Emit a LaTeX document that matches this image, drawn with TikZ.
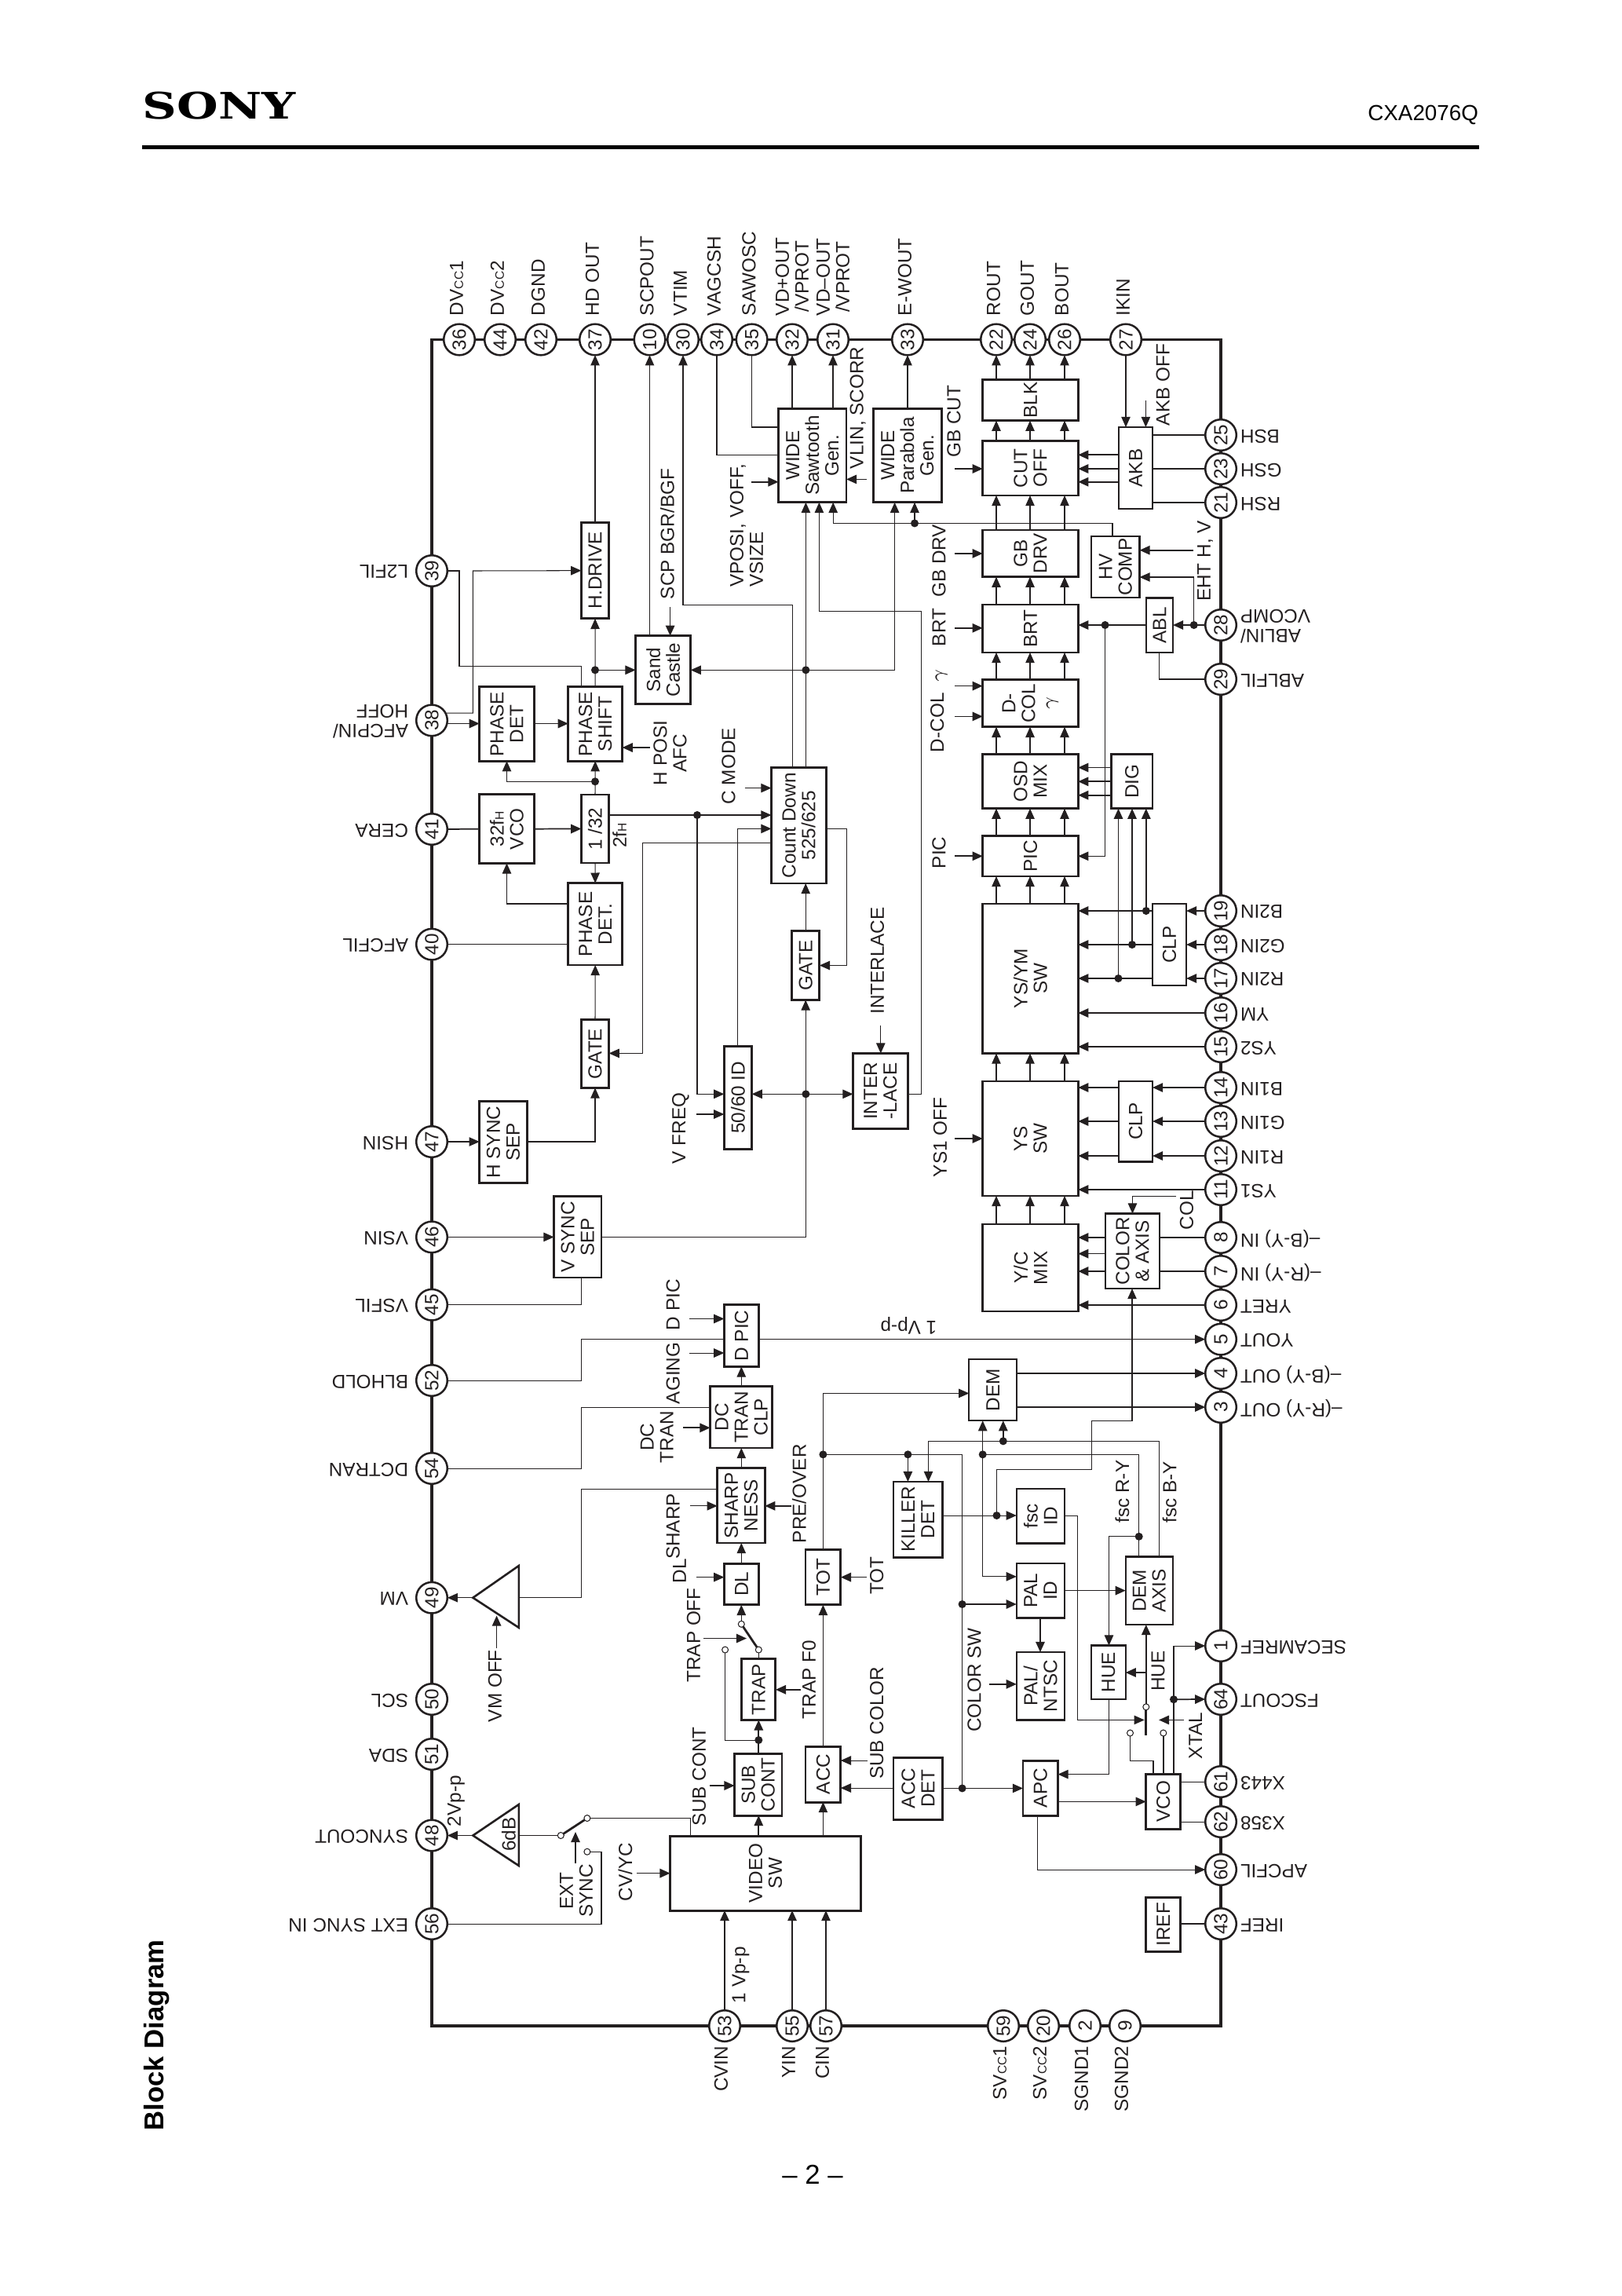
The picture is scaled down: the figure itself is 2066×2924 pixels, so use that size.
\documentclass[tikz,border=0pt]{standalone}
\usepackage{fontspec}
\usepackage{graphicx}
\setmainfont{Liberation Sans}
\newfontfamily\sonyfont{DejaVu Serif}
\usetikzlibrary{arrows.meta}
\definecolor{ink}{HTML}{231F20}
\newcommand\smc[1]{{\fontsize{4.5}{5}\selectfont #1}}
\tikzset{
  txt/.style={inner sep=0pt,outer sep=0pt,align=center,text=ink,font=\fontsize{7}{7.2}\selectfont},
  vt/.style={txt,rotate=90},
  tl/.style={txt,rotate=90,anchor=west},
  bl/.style={txt,rotate=90,anchor=east},
  rl/.style={txt,rotate=180,anchor=east,align=right},
  ll/.style={txt,rotate=180,anchor=west,align=left},
  thk/.style={draw=ink,line width=.85pt,inner sep=0pt,outer sep=0pt},
  mid/.style={draw=ink,line width=.65pt,inner sep=0pt,outer sep=0pt},
  pinc/.style={circle,draw=ink,fill=white,line width=.72pt,minimum size=11.4pt,inner sep=0pt,outer sep=0pt,text=ink,font=\fontsize{7}{7.2}\selectfont},
  dot/.style={circle,fill=ink,minimum size=2.9pt,inner sep=0pt,outer sep=0pt},
  oc/.style={circle,draw=ink,fill=white,line width=.3pt,minimum size=2.3pt,inner sep=0pt,outer sep=0pt},
  ln/.style={draw=ink,line width=.3pt},
  lm/.style={draw=ink,line width=.5pt},
  ar/.style={ln,-{Triangle[length=3.8pt,width=3.3pt]}},
  am/.style={lm,-{Triangle[length=3.8pt,width=3.3pt]}},
  blade/.style={draw=ink,line width=.8pt},
}
\newcommand\blok[7][thk]{%
  \pgfmathsetmacro\bw{(#5-#3)*0.288}\pgfmathsetmacro\bh{(#6-#4)*0.288}%
  \pgfmathsetmacro\bx{(#3+#5)/2}\pgfmathsetmacro\by{(#4+#6)/2}%
  \node[#1,minimum width=\bw pt,minimum height=\bh pt] (#2) at (\bx,\by) {};
  \node[vt] (#2t) at (#2.center) {#7};
}
\newcommand\inn[5][ar]{\coordinate (#2) at (#3,#4); \draw[#1] (#2) -- (#5);}
\begin{document}
\begin{tikzpicture}[x=.288pt,y=-.288pt]
\useasboundingbox (0,0) rectangle (2066,2924);
\fill[white] (0,0) rectangle (2066,2924);
% header
\node[anchor=west,inner sep=0pt] (sony) at (181,135) {\scalebox{1.3}[1]{\sonyfont\bfseries\fontsize{13.4}{14}\selectfont SONY}};
\node[anchor=east,inner sep=0pt,font=\fontsize{8}{9}\selectfont] (part) at (1883.6,146) {CXA2076Q};
\fill[black] (181,185) rectangle (1883.5,190);
\node[rotate=90,anchor=west,inner sep=0pt,font=\bfseries\fontsize{10}{11}\selectfont] (title) at (200,2714) {Block Diagram};
\node[inner sep=0pt,font=\fontsize{10}{11}\selectfont] (page) at (1035,2769) {– 2 –};
% frame
\draw[ink,line width=.95pt] (550,432.5) rectangle (1555,2580);
% blocks
\blok{hdrive}{740.4}{665.5}{775.6}{787.8}{H.DRIVE}
\blok{sand}{809.6}{809.7}{879.7}{896.4}{Sand\\Castle}
\blok{saw}{991.6}{520.4}{1078}{639.8}{WIDE\\Sawtooth\\Gen.}
\blok{par}{1112.4}{520.4}{1199.5}{639.8}{WIDE\\Parabola\\Gen.}
\blok{pd}{610.7}{874.8}{680.3}{969.2}{PHASE\\DET}
\blok{ps}{723.8}{874.8}{792.6}{969.2}{PHASE\\SHIFT}
\blok{vco}{610.7}{1011.9}{680.3}{1099.4}{32f\smc{H}\\VCO}
\blok{div}{740.4}{1012}{775.6}{1099}{1 /32}
\blok{pdd}{723.8}{1124.7}{792.6}{1229}{PHASE\\DET.}
\blok{gatea}{740.4}{1298.7}{775.6}{1385.4}{GATE}
\blok{hsep}{610.7}{1402.8}{671.2}{1506.4}{H SYNC\\SEP}
\blok{cd}{982.5}{977.5}{1052.5}{1125}{Count Down\\525/625}
\blok{gateb}{1008.6}{1185.6}{1043.8}{1273.5}{GATE}
\blok{fid}{922.4}{1332.3}{957.6}{1463.3}{50/60 ID}
\blok{inter}{1086.5}{1341.5}{1156.4}{1437.2}{INTER\\-LACE}
\blok{blk}{1251.7}{483.5}{1373.2}{535.7}{BLK}
\blok{cut}{1251.7}{561.9}{1373.2}{631}{CUT\\OFF}
\blok{gbdrv}{1251.7}{675}{1373.2}{734.7}{GB\\DRV}
\blok{brt}{1251.7}{770}{1373.2}{831}{BRT}
\blok{dcol}{1251.7}{865.7}{1373.2}{925.8}{D-\\COL\\$\gamma$}
\blok{osd}{1251.7}{960.5}{1373.2}{1029.7}{OSD\\MIX}
\blok{pic}{1251.7}{1064.6}{1373.2}{1116}{PIC}
\blok{ysym}{1251.7}{1151}{1373.2}{1341.5}{YS/YM\\SW}
\blok{ys}{1251.7}{1377}{1373.2}{1523}{YS\\SW}
\blok{yc}{1251.7}{1559}{1373.2}{1670}{Y/C\\MIX}
\blok{akb}{1425}{544}{1468}{648}{AKB}
\blok[mid]{hv}{1390}{683}{1451.5}{761}{HV\\COMP}
\blok[mid]{abl}{1459.8}{761.6}{1494}{831}{ABL}
\blok{dig}{1415.4}{960.5}{1468}{1029.7}{DIG}
\blok{clpb}{1468}{1151}{1511}{1255}{CLP}
\blok{clpa}{1425}{1377}{1468}{1479.5}{CLP}
\blok{colax}{1408}{1545.6}{1477}{1641}{COLOR\\\& AXIS}
\blok{vsep}{705.6}{1523.6}{766}{1627}{V SYNC\\SEP}
\blok{dpic}{922.4}{1661.7}{966.7}{1740.4}{D PIC}
\blok{dct}{904.6}{1765.7}{983.7}{1844}{DC\\TRAN\\CLP}
\blok{sharp}{913.7}{1869.7}{974.2}{1965}{SHARP\\NESS}
\blok{dl}{922.4}{1991}{966.7}{2043.8}{DL}
\blok{tot}{1026}{1973.4}{1070.8}{2043.8}{TOT}
\blok{kil}{1138}{1887}{1200.7}{1983}{KILLER\\DET}
\blok{trap}{944.8}{2112.8}{987.9}{2190.4}{TRAP}
\blok{sub}{935.6}{2233.5}{996}{2312}{SUB\\CONT}
\blok{acc}{1026}{2224}{1070.8}{2295}{ACC}
\blok{accd}{1138}{2238}{1200.7}{2317}{ACC\\DET}
\blok{video}{853.6}{2338}{1096.5}{2433}{VIDEO\\SW}
\blok[mid]{dem}{1234.3}{1731.3}{1295.2}{1809.2}{DEM}
\blok[mid]{fsc}{1294.8}{1895.8}{1355.7}{1965.5}{fsc\\ID}
\blok[mid]{pal}{1294.8}{1991}{1355.7}{2060.4}{PAL\\ID}
\blok[mid]{ntsc}{1294.8}{2104}{1355.7}{2190.4}{PAL/\\NTSC}
\blok[mid]{axis}{1433.7}{1982.5}{1494}{2069}{DEM\\AXIS}
\blok[mid]{hue}{1390}{2095.6}{1433.7}{2164}{HUE}
\blok{apc}{1303}{2242}{1347.5}{2312}{APC}
\blok{vcob}{1459.8}{2259.6}{1503.7}{2329}{VCO}
\blok{iref}{1459.8}{2416}{1503.7}{2485.5}{IREF}
% triangles
\coordinate (vmtip) at (602.4,2034.7); \coordinate (vmbase) at (660.8,2034.7);
\coordinate (dbtip) at (602.4,2337.5); \coordinate (dbbase) at (660.8,2337.5);
\draw[ink,line width=.75pt] (vmtip) -- (660.8,1994) -- (660.8,2072.8) -- cycle;
\draw[ink,line width=.75pt] (dbtip) -- (660.8,2298) -- (660.8,2376) -- cycle;
\node[vt] (dbt) at (648,2336) {6dB};
% pins
\foreach \n/\x in {36/585,44/637,42/689,37/758,10/827.5,30/870,34/913,35/957.6,32/1009,31/1061,33/1156,22/1269,24/1312,26/1356,27/1434}
  {\node[pinc] (p\n) at (\x,432.5) {\rotatebox{90}{\n}};}
\foreach \n/\y in {39/727,38/917.4,41/1056,40/1202.6,47/1454,46/1575.4,45/1661.7,52/1758,54/1870,49/2034.7,50/2164,51/2234,48/2337.5,56/2450}
  {\node[pinc] (p\n) at (550,\y) {\rotatebox{90}{\n}};}
\foreach \n/\x in {53/923,55/1009,57/1052,59/1278,20/1329,2/1382,9/1433}
  {\node[pinc] (p\n) at (\x,2580) {\rotatebox{90}{\n}};}
\foreach \n/\y in {25/554,23/597,21/640,28/796,29/865,19/1160,18/1203,17/1246,16/1290,15/1333,14/1385,13/1428,12/1472,11/1515,8/1576,7/1619,6/1662,5/1705.6,4/1749,3/1792,1/2096,64/2164,61/2269,62/2320,60/2381,43/2450}
  {\node[pinc] (p\n) at (1555,\y) {\rotatebox{90}{\n}};}
% top labels
\node[tl] (l36) at (581.5,402) {DV\smc{CC}1};
\node[tl] (l44) at (633.5,402) {DV\smc{CC}2};
\node[tl] (l42) at (685.5,402) {DGND};
\node[tl] (l37) at (754.5,402) {HD OUT};
\node[tl] (l10) at (824,402) {SCPOUT};
\node[tl] (l30) at (866.5,402) {VTIM};
\node[tl] (l34) at (909.5,402) {VAGCSH};
\node[tl] (l35) at (954,402) {SAWOSC};
\node[tl] (l32) at (1009,402) {VD+OUT\\/VPROT};
\node[tl] (l31) at (1061,402) {VD–OUT\\/VPROT};
\node[tl] (l33) at (1152.5,402) {E-WOUT};
\node[tl] (l22) at (1265.5,402) {ROUT};
\node[tl] (l24) at (1308.5,402) {GOUT};
\node[tl] (l26) at (1352.5,402) {BOUT};
\node[tl] (l27) at (1430.5,402) {IKIN};
% bottom labels
\node[bl] (l53) at (918.5,2605.7) {CVIN};
\node[bl] (l55) at (1004.5,2605.7) {YIN};
\node[bl] (l57) at (1047.5,2605.7) {CIN};
\node[bl] (l59) at (1273.5,2605.7) {SV\smc{CC}1};
\node[bl] (l20) at (1324.5,2605.7) {SV\smc{CC}2};
\node[bl] (l2) at (1377.5,2605.7) {SGND1};
\node[bl] (l9) at (1428.5,2605.7) {SGND2};
% left labels
\foreach \n/\t in {39/L2FIL,41/CERA,40/AFCFIL,47/HSIN,46/VSIN,45/VSFIL,52/BLHOLD,54/DCTRAN,49/VM,50/SCL,51/SDA,48/SYNCOUT,56/EXT SYNC IN}
  {\node[ll] (l\n) at ([yshift=-.4pt]520,0 |- p\n) {\t};}
\node[ll] (l38) at ([yshift=-.4pt]520,0 |- p38) {AFCPIN/\\HOFF};
% right labels
\foreach \n/\t in {25/BSH,23/GSH,21/RSH,29/ABLFIL,19/B2IN,18/G2IN,17/R2IN,16/YM,15/YS2,14/B1IN,13/G1IN,12/R1IN,11/YS1,8/–(B-Y) IN,7/–(R-Y) IN,6/YRET,5/YOUT,4/–(B-Y) OUT,3/–(R-Y) OUT,1/SECAMREF,64/FSCOUT,61/X443,62/X358,60/APCFIL,43/IREF}
  {\node[rl] (l\n) at ([yshift=-.4pt]1580,0 |- p\n) {\t};}
\node[rl] (l28) at ([yshift=-.4pt]1580,0 |- p28) {ABLIN/\\VCOMP};
% free labels
\node[tl] (tscp) at (850,763) {SCP BGR/BGF};
\node[tl,align=left] (tvpos) at (951,747.6) {VPOSI, VOFF,\\VSIZE};
\node[tl] (tvlin) at (1092.7,597) {VLIN, SCORR};
\node[vt] (thpos) at (853.5,959) {H POSI\\AFC};
\node[vt] (t2fh) at (789,1064) {2f\smc{H}};
\node[tl] (tcmode) at (928,1024.4) {C MODE};
\node[tl] (tvf) at (867,1482) {V FREQ};
\node[tl] (tint) at (1117.6,1291.7) {INTERLACE};
\node[tl] (tdpic) at (857.3,1694) {D PIC};
\node[tl] (tag) at (857.3,1788) {AGING};
\node[vt] (tdct) at (836.7,1830) {DC\\TRAN};
\node[tl] (tsh) at (857.3,1985.8) {SHARP};
\node[tl] (tdl) at (865.6,2016) {DL};
\node[tl] (ttoff) at (883.4,2142.5) {TRAP OFF};
\node[tl] (tf0) at (1030.6,2189) {TRAP F0};
\node[tl] (ttot) at (1116.8,2030.6) {TOT};
\node[tl] (tpre) at (1018,1965) {PRE/OVER};
\node[tl] (tsc) at (890.5,2325) {SUB CONT};
\node[tl] (tsco) at (1116.8,2265.8) {SUB COLOR};
\node[vt] (text) at (734,2408) {EXT\\SYNC};
\node[tl] (t2v) at (580.8,2326) {2Vp-p};
\node[tl] (tcv) at (796.4,2421) {CV/YC};
\node[tl] (t1v) at (943.5,2551) {1 Vp-p};
\node[tl] (tvm) at (630.6,2193) {VM OFF};
\node[tl] (tgbc) at (1215,582.6) {GB CUT};
\node[tl] (tgbd) at (1196,760.8) {GB DRV};
\node[tl] (tbrt) at (1196,823) {BRT};
\node[tl] (tdc) at (1196,958) {D-COL \ $\gamma$};
\node[tl] (tpic) at (1196,1106) {PIC};
\node[tl] (tys) at (1197.4,1499) {YS1 OFF};
\node[tl] (takb) at (1481.3,542) {AKB OFF};
\node[tl] (teht) at (1535,765.8) {EHT H, V};
\node[tl] (tcol) at (1511.6,1566) {COL};
\node[tl] (tcs) at (1241,2205.7) {COLOR SW};
\node[tl] (thu) at (1475,2153.9) {HUE};
\node[tl] (txt) at (1522.8,2240) {XTAL};
\node[tl] (tfr) at (1429.5,1939.4) {fsc R-Y};
\node[tl] (tfb) at (1489.6,1939.4) {fsc B-Y};
\node[txt,rotate=180] (t1vb) at (1157.4,1688.6) {1 Vp-p};
% junctions
\foreach \j/\x/\y in {jsand/758/853.3,jcd/1026.4/853.3,jhv/1165/666.4,jps/758/995.3,jtf/888/1038,jid/1026.4/1393.3,jtrap/966.3/2216,jtot/1048.4/1852.3,jkil/1156.4/1852.3,jcsa/1225.6/2043,jacc/1225.6/2277.4,jfsc/1269.5/1930,jdema/1251.7/1852.3,jdemb/1277.8/1835.3,jaxis/1450.7/1956.8,jfs/1495/2164.2,jabl/1520.7/796,jbrt/1407.6/796,jb/1459.8/1160,jg/1442/1203,jr/1424.5/1246}
  {\node[dot] (\j) at (\x,\y) {};}
% open contacts
\foreach \j/\x/\y in {ta/944.3/2068.3,tb/966.3/2101,tc/923.6/2101,sa/714.3/2337.5,sb/747.9/2315.5,sc/747.9/2358.2,xa/1459.8/2173.8,xb/1439.5/2207,xc/1481.8/2207}
  {\node[oc] (\j) at (\x,\y) {};}
% --- top area
\draw[ar] (hdrive.north) -- (p37.south);
\draw[ar] (sand.north -| p10.south) -- (p10.south);
\draw[ar] (cd.north -| 1009.4,0) -- (1009.4,770.4) -| (p30.south);
\draw[ln] (p34.south) |- (saw.west |- 0,579.3);
\draw[ln] (p35.south) |- (saw.west |- 0,544);
\draw[ar] (saw.north -| p32.south) -- (p32.south);
\draw[ar] (saw.north -| p31.south) -- (p31.south);
\draw[ar] (par.north -| p33.south) -- (p33.south);
\inn[am]{fvp}{956.8}{613.7}{saw.west |- fvp}
\inn[am]{fvl}{1104}{610.4}{saw.east |- fvl}
\inn[am]{fscp}{853.6}{773}{sand.north -| fscp}
\draw[ar] (cd.north -| jcd.center) -- (saw.south -| jcd.center);
\draw[ar] (jcd.center) -- (sand.east |- jcd.center);
\draw[ar] (jcd.center) -| (par.south -| 1139.6,0);
\draw[ar] (inter.east |- 0,1393.3) -- (1173.4,1393.3) -- (1173.4,778.4) -- (1043.4,778.4) -- (saw.south -| 1043.4,0);
\draw[ar] (hv.north -| 1417,0) -- (1417,666.4) -- (1061.2,666.4) -- (saw.south -| 1061.2,0);
\draw[ar] (jhv.center) -- (par.south -| jhv.center);
\draw[ln] (p39.east) -- (585,727) -- (585,848.7) -- (740.8,848.7) -- (ps.north -| 740.8,0);
\draw[ar] (p38.28) -| (602.4,727) -- (hdrive.west);
\draw[am] (p38.east |- 0,921.5) -- (pd.west |- 0,921.5);
\draw[am] (pd.east |- 0,921.5) -- (ps.west |- 0,921.5);
\draw[ar] (ps.north) -- (hdrive.south);
\draw[ar] (jsand.center) -- (sand.west |- jsand.center);
\inn[am]{fhp}{827.5}{952}{ps.east |- fhp}
\draw[ar] (div.north) -- (ps.south);
\draw[ar] (jps.center) -| (pd.south -| 645.5,0);
\draw[am] (vco.east) -- (div.west);
\draw[lm] (p41.east) -- (vco.west);
\draw[ar] (div.south) -- (pdd.north);
\draw[ar] (pdd.west |- 0,1151) -| (vco.south -| 645.5,0);
\draw[ln] (p40.east) -- (pdd.west |- p40.east);
\draw[ar] (gatea.north) -- (pdd.south);
\draw[ar] (hsep.east |- p47.east) -| (gatea.south);
\draw[ar] (p47.east) -- (hsep.west |- p47.east);
\draw[ar] (div.east |- jtf.center) -- (cd.west |- jtf.center);
\draw[ar] (jtf.center) |- (fid.west |- jid.center);
\inn[ar]{fcm}{948.5}{1003.6}{cd.west |- fcm}
\draw[ar] (fid.north -| 939.4,0) -- (939.4,1055.4) -- (cd.west |- 0,1055.4);
\draw[ar] (cd.west |- 0,1073.7) -- (818.3,1073.7) -- (818.3,1341.4) -- (gatea.east |- 0,1341.4);
\draw[ar] (cd.east |- 0,1055.4) -- (1078.6,1055.4) -- (1078.6,1229.5) -- (gateb.east |- 0,1229.5);
\draw[ar] (gateb.north) -- (cd.south -| gateb.north);
\draw[ar] (vsep.east |- p46.east) -| (gateb.south);
\draw[ar] (jid.center) -- (fid.east |- jid.center);
\draw[ar] (jid.center) -- (inter.west |- jid.center);
\inn[ar]{fvf}{887}{1419}{fid.west |- fvf}
\inn[ar]{fint}{1121.8}{1306}{inter.north -| fint}
\draw[ar] (p46.east) -- (vsep.west |- p46.east);
% --- mid left
\draw[ln] (vsep.south -| 740.8,0) |- (p45.east);
\draw[ln] (p52.east) -| (740.8,1705.6) -- (dpic.west |- 0,1705.6);
\draw[ar] (dpic.east |- 0,1705.6) -- (p5.west);
\draw[ln] (p54.east) -| (740.8,1792) -- (dct.west |- 0,1792);
\draw[ln] (vmbase) -| (740.8,1896) -- (sharp.west |- 0,1896);
\draw[ar] (vmtip) -- (p49.east);
\inn[ar]{fdp}{878}{1679.5}{dpic.west |- fdp}
\inn[ar]{fag}{878}{1723}{dpic.west |- fag}
\inn[am]{fdc}{870}{1818.3}{dct.west |- fdc}
\inn[ar]{fsh}{878.8}{1917.8}{sharp.west |- fsh}
\inn[ar]{fdl}{887}{2008.6}{dl.west |- fdl}
\draw[ar] (dct.north -| 944.3,0) -- (dpic.south -| 944.3,0);
\draw[ar] (sharp.north -| 944.3,0) -- (dct.south -| 944.3,0);
\draw[ar] (dl.north -| 944.3,0) -- (sharp.south -| 944.3,0);
\draw[ar] (ta) -- (dl.south -| ta);
\draw[blade] (ta) -- (tb);
\inn[am]{fto}{896.3}{2086.5}{951,2086.5}
\draw[ln] (tb) -- (trap.north -| tb);
\draw[ln] (tc) |- (jtrap.center);
\draw[am] (sub.north -| jtrap.center) -- (trap.south -| jtrap.center);
\inn[am]{ff0}{1020}{2151.8}{trap.east |- ff0}
\draw[ar] (acc.north -| 1048.4,0) -- (tot.south -| 1048.4,0);
\inn[am]{fto2}{1104}{2008.6}{tot.east |- fto2}
\draw[ar] (tot.north -| 1048.4,0) |- (dem.west |- 0,1774.4);
\draw[ln] (jtot.center) -| (jacc.center);
\draw[am] (jkil.center) -- (kil.north -| jkil.center);
\draw[am] (jcsa.center) -- (pal.west |- jcsa.center);
\inn[am]{fpo}{1007.8}{1917.8}{sharp.east |- fpo}
% --- video
\draw[am] (video.north -| 966.3,0) -- (sub.south -| 966.3,0);
\draw[ar] (video.north -| 1048.4,0) -- (acc.south -| 1048.4,0);
\draw[ln] (video.north -| 879.7,0) |- (sb);
\inn[am]{fsub}{904}{2274}{sub.west |- fsub}
\inn[ar]{fsco}{1105}{2242}{acc.east |- fsco}
\draw[ar] (accd.west |- 0,2277) -- (acc.east |- 0,2277);
\draw[ln] (dbbase) -- (sa);
\draw[ar] (dbtip) -- (p48.east);
\draw[blade] (sa) -- (sb);
\inn[am]{fex}{733}{2372.7}{733,2333}
\draw[ln] (sc) -- (766,2358.2) |- (p56.east);
\inn[am]{fcv}{810.9}{2385.6}{video.west |- fcv}
\draw[am] (p53.north) -- (video.south -| p53.north);
\draw[am] (p55.north) -- (video.south -| p55.north);
\draw[ar] (p57.north) -- (video.south -| p57.north);
\inn[am]{fvm}{632.6}{2099}{632.6,2057.5}
% --- RGB chain
\foreach \a/\b in {yc/ys,ys/ysym,ysym/pic,pic/osd,osd/dcol,dcol/brt,brt/gbdrv,gbdrv/cut,cut/blk}
  {\foreach \x in {1269,1312,1356}{\draw[ar] (\a.north -| \x,0) -- (\b.south -| \x,0);}}
\foreach \x/\p in {1269/22,1312/24,1356/26}{\draw[ar] (blk.north -| \x,0) -- (p\p.south);}
\inn[am]{fgc}{1216}{597}{cut.west |- fgc}
\inn[am]{fgd}{1216}{704.9}{gbdrv.west |- fgd}
\inn[am]{fbr}{1216}{799.8}{brt.west |- fbr}
\inn[am]{fdca}{1216}{873.6}{dcol.west |- fdca}
\inn[am]{fdcb}{1216}{912.4}{dcol.west |- fdcb}
\inn[am]{fpi}{1216}{1090.3}{pic.west |- fpi}
\inn[am]{fys}{1216}{1450}{ys.west |- fys}
\foreach \y in {579.3,597,613.7}{\draw[am] (akb.west |- 0,\y) -- (cut.east |- 0,\y);}
\draw[ar] (p27.south) -- (akb.north -| p27.south);
\inn[ar]{fak}{1459.4}{510}{akb.north -| fak}
\draw[ln] (p25.west) -- (akb.east |- p25.west);
\draw[lm] (p23.west) -- (akb.east |- p23.west);
\draw[ln] (p21.west) -- (akb.east |- p21.west);
\inn[am]{feh}{1519.5}{700.7}{hv.east |- feh}
\draw[ar] (jabl.center) |- (hv.east |- 0,735);
\draw[am] (p28.west) -- (abl.east |- p28.west);
\draw[am] (abl.west |- jbrt.center) -- (brt.east |- jbrt.center);
\draw[ar] (jbrt.center) |- (pic.east |- 0,1090.3);
\draw[ln] (abl.south -| 1476.4,0) |- (p29.west);
\foreach \y in {977.5,995.3,1012.7}{\draw[am] (dig.west |- 0,\y) -- (osd.east |- 0,\y);}
\draw[am] (jb.center) -- (dig.south -| jb.center);
\draw[am] (jg.center) -- (dig.south -| jg.center);
\draw[am] (jr.center) -- (dig.south -| jr.center);
\foreach \n in {19,18}{\draw[am] (clpb.west |- p\n.west) -- (ysym.east |- p\n.west);}
\draw[ar] (clpb.west |- p17.west) -- (ysym.east |- p17.west);
\foreach \n in {19,18,17}{\draw[am] (p\n.west) -- (clpb.east |- p\n.west);}
\foreach \n in {16,15}{\draw[am] (p\n.west) -- (ysym.east |- p\n.west);}
\foreach \n in {14,13,12}{\draw[am] (p\n.west) -- (clpa.east |- p\n.west); \draw[am] (clpa.west |- p\n.west) -- (ys.east |- p\n.west);}
\draw[am] (p11.west) -- (ys.east |- p11.west);
\coordinate (fcol) at (1498,1523.6);
\draw[ar] (fcol) -| (colax.north);
\foreach \y in {1576,1596.6,1619}{\draw[am] (colax.west |- 0,\y) -- (yc.east |- 0,\y);}
\draw[ln] (p8.west) -- (colax.east |- p8.west);
\draw[ln] (p7.west) -- (colax.east |- p7.west);
\draw[am] (p6.west) -- (yc.east |- p6.west);
% --- chroma
\draw[ar] (jfsc.center) |- (1390.6,1871) |- (1442,1809.2) -- (colax.south -| 1442,0);
\draw[ar] (kil.east |- jfsc.center) -- (fsc.west |- jfsc.center);
\draw[ar] (fsc.east |- jfsc.center) -- (1372.7,1930) |- (1457.7,2190.4);
\draw[am] (dem.east |- p4.west) -- (p4.west);
\draw[am] (dem.east |- p3.west) -- (p3.west);
\draw[ar] (jdema.center) |- (pal.west |- 0,2007.8);
\draw[ar] (jdema.center) -- (dem.south -| jdema.center);
\draw[ln] (jdema.center) -| (axis.north -| jaxis.center);
\draw[ar] (jaxis.center) -| (hue.north -| 1412.5,0);
\draw[am] (jdemb.center) -- (dem.south -| jdemb.center);
\draw[ar] (jdemb.center) -| (kil.north -| 1182.5,0);
\draw[ln] (jdemb.center) -| (axis.north -| 1476.4,0);
\draw[am] (pal.east |- 0,2025.6) -- (axis.west |- 0,2025.6);
\draw[am] (pal.south -| 1325,0) -- (ntsc.north -| 1325,0);
\inn[am]{fnt}{1260.4}{2144.8}{ntsc.west |- fnt}
\draw[am] (xa) -- (axis.south -| xa);
\coordinate (hj) at (1459.8,2130);
\draw[am] (hj) -- (hue.east |- hj);
\coordinate (xe) at (1459.8,2209.8);
\draw[blade] (xa) -- (xe);
\draw[ln] (xb) |- (1469,2242) -- (vcob.north -| 1469,0);
\draw[lm] (xc) -- (vcob.north -| xc);
\inn[am]{fxt}{1508.3}{2190.4}{1476,2190.4}
\draw[ar] (vcob.north -| jfs.center) |- (p1.west);
\draw[am] (jfs.center) -- (p64.west);
\draw[ar] (hue.south -| 1412.5,0) |- (apc.east |- 0,2259.6);
\draw[ar] (apc.east |- 0,2294.4) -- (vcob.west |- 0,2294.4);
\draw[ar] (apc.south -| 1321.8,0) |- (p60.west);
\draw[ar] (accd.east |- jacc.center) -- (apc.west |- jacc.center);
\draw[ln] (vcob.east |- p61.west) -- (p61.west);
\draw[ln] (vcob.east |- p62.west) -- (p62.west);
\draw[lm] (iref.east |- p43.west) -- (p43.west);
\end{tikzpicture}
\end{document}
